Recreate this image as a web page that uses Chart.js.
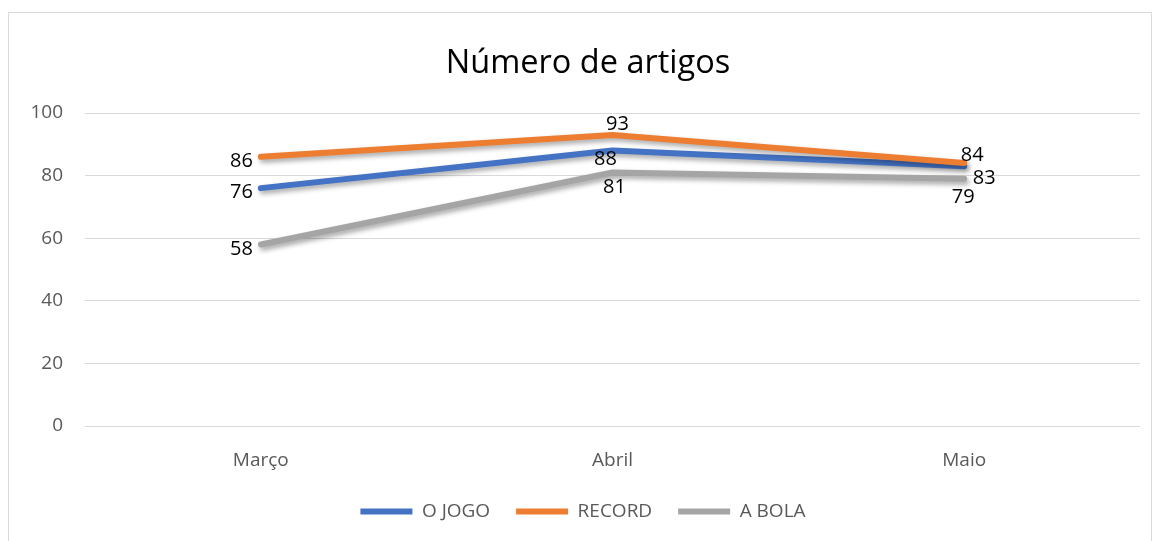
<!DOCTYPE html>
<html>
<head>
<meta charset="utf-8">
<script src="https://cdn.jsdelivr.net/npm/chart.js@4/dist/chart.umd.min.js"></script>
<style>
  body { margin: 0; background: #fff; }
  #frame { position: absolute; left: 8px; top: 12px; width: 1142px; height: 540px; border: 1px solid #d9d9d9; }
  #wrap { position: absolute; left: 0; top: 0; width: 1156px; height: 541px; }
</style>
</head>
<body>
<div id="frame"></div>
<div id="wrap"><canvas id="chart"></canvas></div>
<script>
const months = ["Março", "Abril", "Maio"];
const seriesNames = ["O JOGO", "RECORD", "A BOLA"];
const oJogo = [76, 88, 83];
const record = [86, 93, 84];
const aBola = [58, 81, 79];
const yTicks = [0, 20, 40, 60, 80, 100];

const colors = ["#4472C4", "#ED7D31", "#A5A5A5"];

// label offsets per dataset / point (dx, dy, align)
const labelPlace = [
    [[-8, 4, "right"], [-7, 9, "center"], [20, 12, "center"]],
    [[-8, 4, "right"], [5, -11, "center"], [8, -8, "center"]],
    [[-8, 5, "right"], [2, 15, "center"], [-1, 19, "center"]],
];

const lineShadow = {
    id: "lineShadow",
    beforeDatasetDraw(chart) {
        const ctx = chart.ctx;
        ctx.save();
        ctx.shadowColor = "rgba(0,0,0,0.35)";
        ctx.shadowBlur = 5;
        ctx.shadowOffsetX = 2;
        ctx.shadowOffsetY = 3;
    },
    afterDatasetDraw(chart) {
        chart.ctx.restore();
    },
};

const pointLabels = {
    id: "pointLabels",
    afterDatasetsDraw(chart) {
        const ctx = chart.ctx;
        ctx.save();
        ctx.font = "20px 'Open Sans'";
        ctx.fillStyle = "#000";
        ctx.textBaseline = "middle";
        chart.data.datasets.forEach((ds, i) => {
            const meta = chart.getDatasetMeta(i);
            meta.data.forEach((pt, j) => {
                const p = labelPlace[i][j];
                ctx.textAlign = p[2];
                ctx.fillText(ds.data[j], pt.x + p[0], pt.y + p[1]);
            });
        });
        ctx.restore();
    },
};

// wide gaps between legend items without a tall legend box,
// and the title nudged right like in the original
const boxTweaks = {
    id: "boxTweaks",
    beforeInit(chart) {
        const fit = chart.legend.fit;
        chart.legend.fit = function () {
            fit.call(this);
            this.height = 65;
        };
    },
    afterLayout(chart) {
        chart.titleBlock.left += 10;
    },
};

const allData = [oJogo, record, aBola];

new Chart(document.getElementById("chart"), {
    type: "line",
    data: {
        labels: months,
        datasets: seriesNames.map((name, i) => ({
            label: name,
            data: allData[i],
            borderColor: colors[i],
            backgroundColor: colors[i],
            borderWidth: 6,
            borderCapStyle: "round",
            borderJoinStyle: "round",
            pointRadius: 0,
            pointHoverRadius: 0,
            tension: 0,
            order: 3 - i,
        })),
    },
    options: {
        responsive: true,
        maintainAspectRatio: false,
        animation: false,
        layout: {
            padding: { top: 36, left: 26, right: 16, bottom: 0 },
        },
        scales: {
            x: {
                offset: true,
                grid: { display: false },
                border: { display: false },
                ticks: {
                    color: "#595959",
                    font: { family: "'Open Sans'", size: 19 },
                    padding: 15,
                },
                afterFit(scale) {
                    scale.height = 50;
                },
            },
            y: {
                min: 0,
                max: 100,
                afterBuildTicks(scale) {
                    scale.ticks = yTicks.map((v) => ({ value: v }));
                },
                grid: { color: "#d9d9d9", drawTicks: false, lineWidth: 1 },
                border: { display: false },
                ticks: {
                    color: "#595959",
                    font: { family: "'Open Sans'", size: 19 },
                    padding: 22,
                },
                afterFit(scale) {
                    scale.width = 59;
                },
            },
        },
        plugins: {
            title: {
                display: true,
                text: "Número de artigos",
                color: "#000",
                font: { family: "'Open Sans'", size: 32.5, weight: "normal" },
                padding: { top: 8, bottom: 30 },
            },
            legend: {
                position: "bottom",
                labels: {
                    sort: (a, b) => a.datasetIndex - b.datasetIndex,
                    usePointStyle: true,
                    pointStyle: "line",
                    pointStyleWidth: 52,
                    color: "#595959",
                    font: { family: "'Open Sans'", size: 19 },
                    padding: 26,
                },
            },
            tooltip: { enabled: false },
        },
    },
    plugins: [lineShadow, pointLabels, boxTweaks],
});
</script>
</body>
</html>
